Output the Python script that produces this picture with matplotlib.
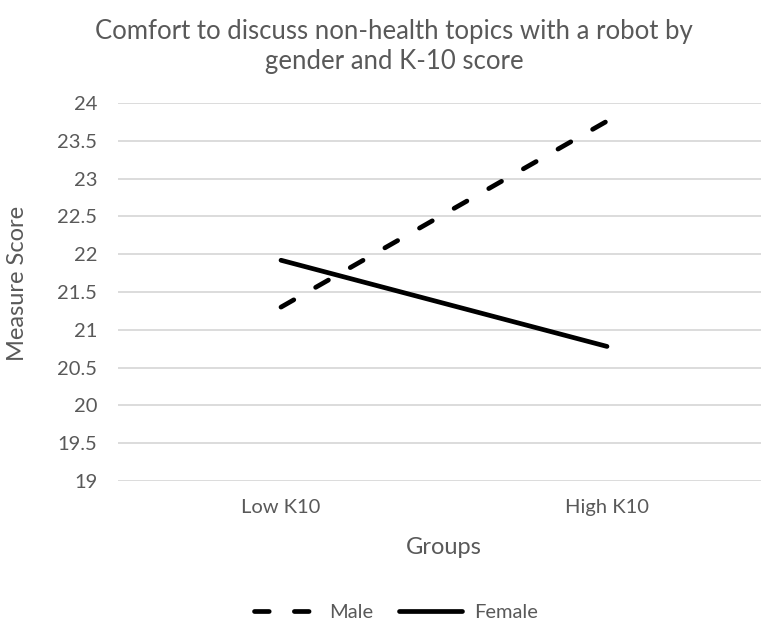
import matplotlib
matplotlib.use("Agg")
import matplotlib.pyplot as plt

groups = ["Low K10", "High K10"]
male = [21.30, 23.76]
female = [21.92, 20.78]
yticks = [19, 19.5, 20, 20.5, 21, 21.5, 22, 22.5, 23, 23.5, 24]
ytick_labels = ["19", "19.5", "20", "20.5", "21", "21.5", "22", "22.5", "23", "23.5", "24"]
title = "Comfort to discuss non-health topics with a robot by\ngender and K-10 score"

plt.rcParams['font.family'] = ['Lato', 'DejaVu Sans']
plt.rcParams['lines.scale_dashes'] = False
txt = "#595959"

W, H = 761, 624
fig = plt.figure(figsize=(W / 100, H / 100), dpi=100)
ax = fig.add_axes([118 / W, (H - 481) / H, 652 / W, 378 / H])

x = list(range(len(groups)))
ax.plot(x, male, color="black", lw=3.4, linestyle=(0, (10.6, 18.1)),
        dash_capstyle="round", solid_capstyle="round", label="Male")
ax.plot(x, female, color="black", lw=3.4, solid_capstyle="round", label="Female")

ax.set_xlim(-0.5, 1.5)
ax.set_ylim(19, 24)
ax.set_yticks(yticks)
ax.set_yticklabels(ytick_labels)
ax.set_xticks(x)
ax.set_xticklabels(groups)
ax.grid(axis="y", color="#d9d9d9", lw=1.3)
ax.set_axisbelow(True)
for s in ax.spines.values():
    s.set_visible(False)
ax.tick_params(axis="both", length=0, colors=txt, labelsize=14.5)
ax.tick_params(axis="y", pad=15)
ax.tick_params(axis="x", pad=13)

fig.text(394 / W, 1 - 46 / H, title, ha="center", va="center", fontsize=18.5,
         color=txt, linespacing=1.25)
fig.text(444 / W, 1 - 548 / H, "Groups", ha="center", va="center", fontsize=17, color=txt)
fig.text(18 / W, 1 - 283 / H, "Measure Score", ha="center", va="center", rotation=90,
         fontsize=17, color=txt)

leg = fig.legend(loc="center", bbox_to_anchor=(396 / W, 1 - 612 / H), ncol=2, frameon=False,
                 fontsize=14.5, handlelength=3.1, handletextpad=0.63, columnspacing=1.3)
for t in leg.get_texts():
    t.set_color(txt)

fig.savefig("out.png", dpi=100, facecolor="white")
